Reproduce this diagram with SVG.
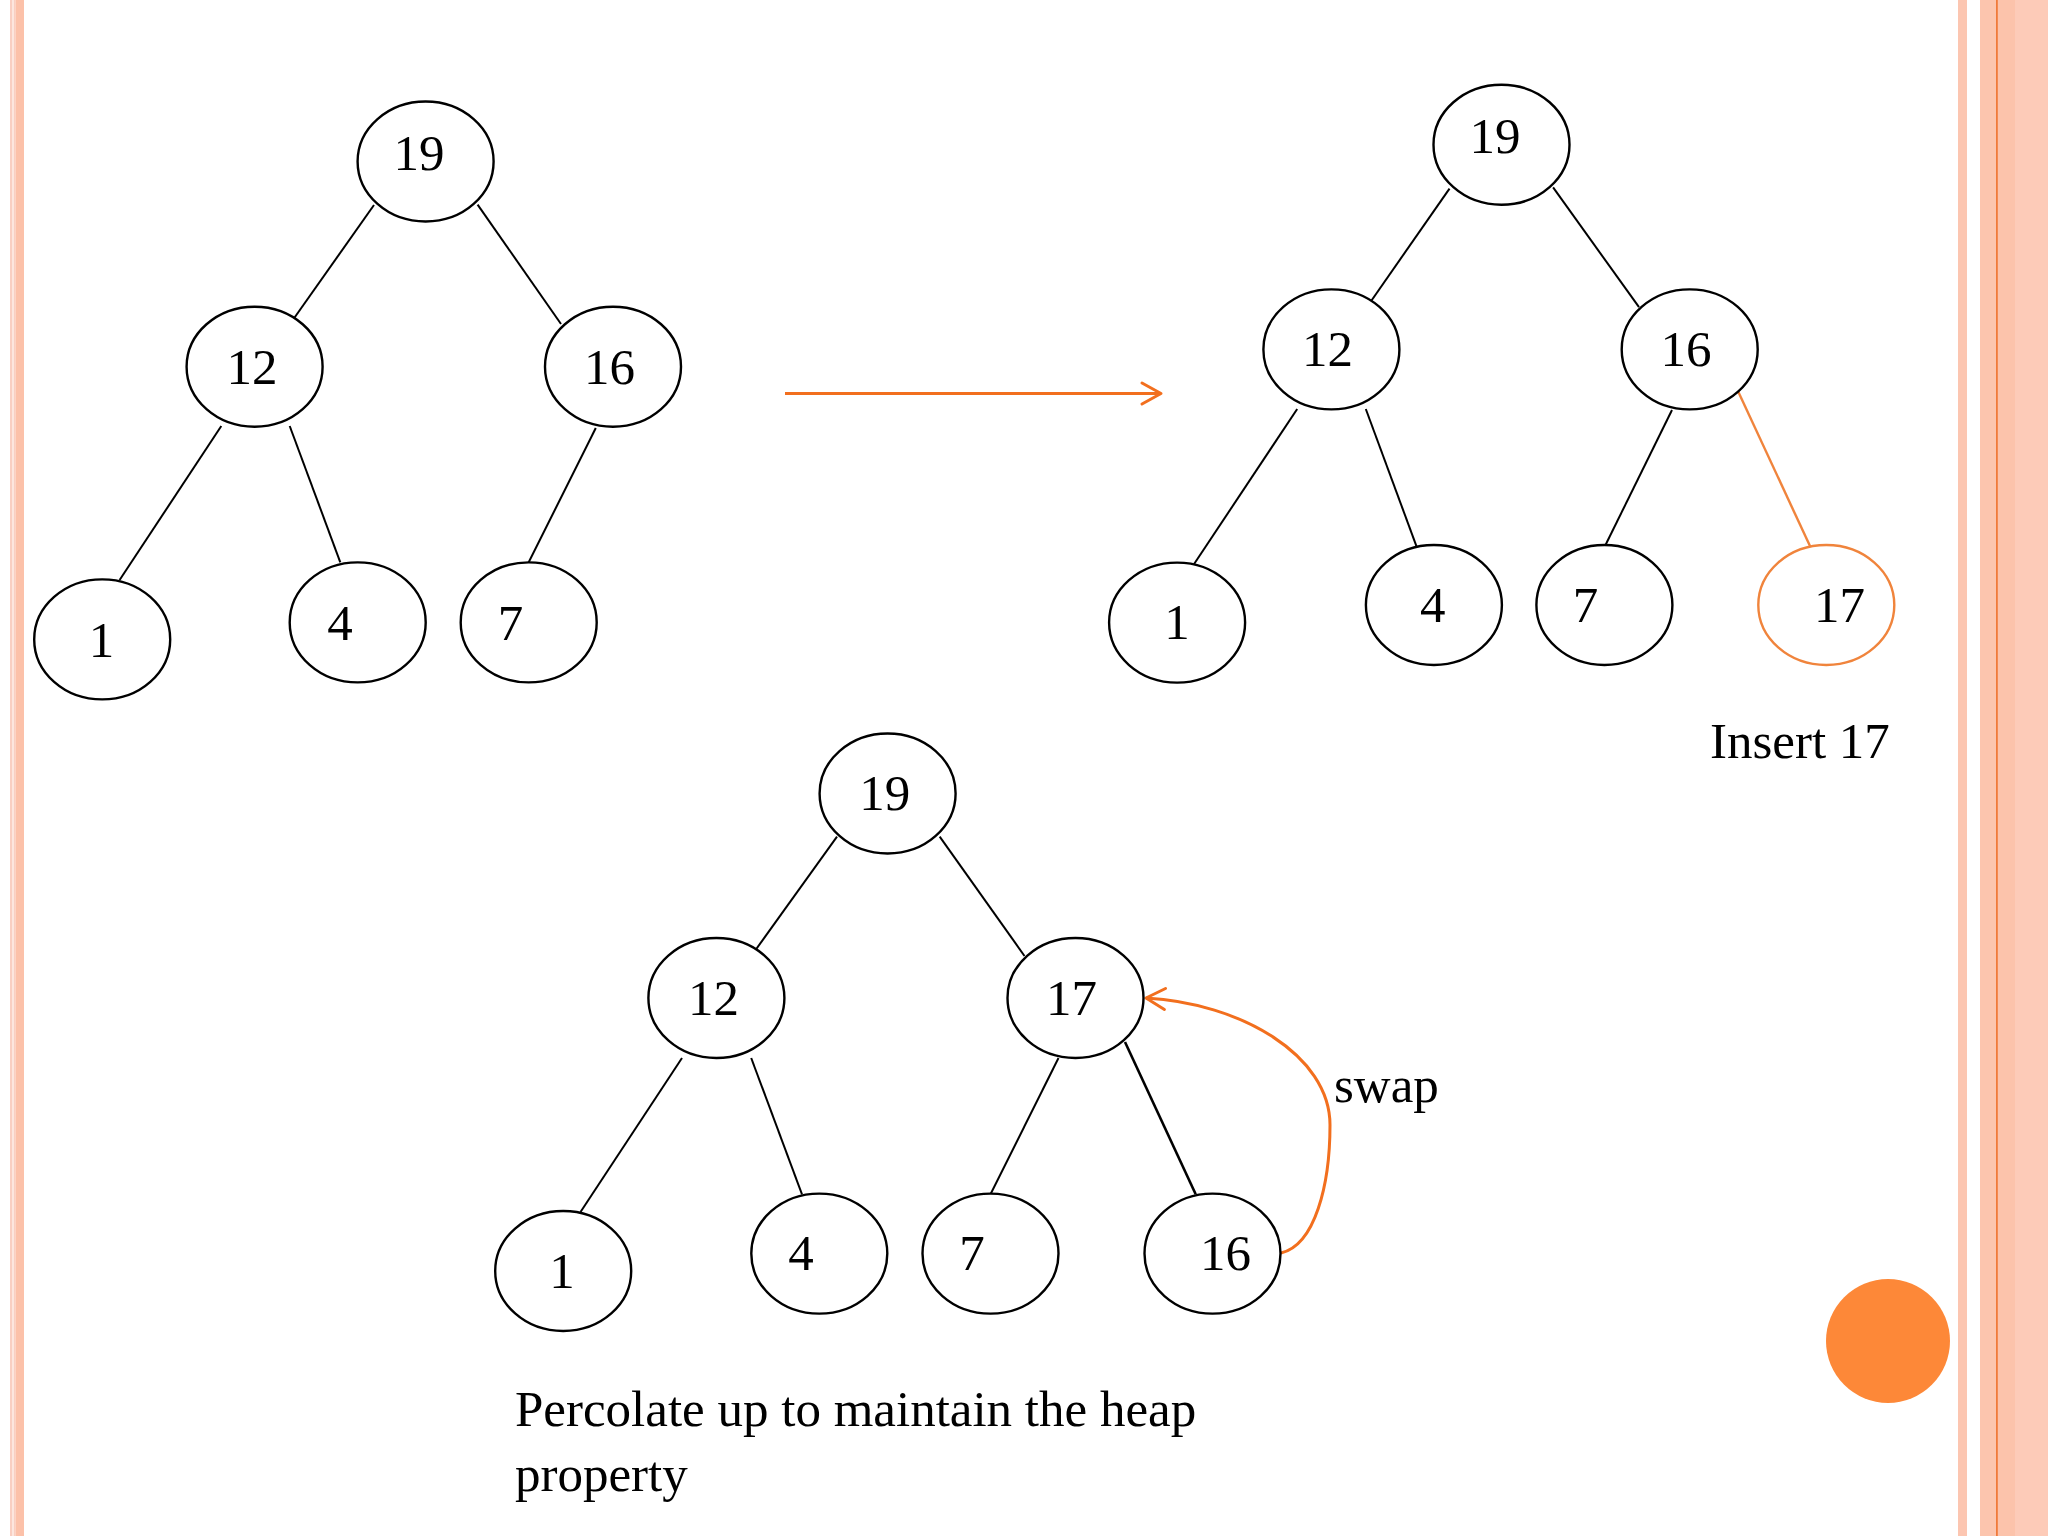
<svg xmlns="http://www.w3.org/2000/svg" width="2048" height="1536" viewBox="0 0 2048 1536">
<style>
.n ellipse{fill:#ffffff;stroke:#000000;stroke-width:2.4}
.n.hl ellipse{stroke:#f0843c}
.t{font-family:"Liberation Serif","Times New Roman",serif;font-size:51px;fill:#000000}
.n text{text-anchor:middle}
.e line{stroke:#000000;stroke-width:2}
.e line.hl{stroke:#f0843c;stroke-width:2.4}
.arr{fill:none;stroke:#f26f1e;stroke-width:3}
</style>
<defs>
<marker id="chev" markerUnits="userSpaceOnUse" markerWidth="40" markerHeight="40" viewBox="-30 -20 40 40" refX="0" refY="0" orient="auto">
<path d="M-19,-10.5 L0,0 L-19,10.5" fill="none" stroke="#f26f1e" stroke-width="3" stroke-linecap="round" stroke-linejoin="round"/>
</marker>
</defs>
<rect width="2048" height="1536" fill="#ffffff"/>
<g id="frame">
<rect x="10" y="0" width="5.5" height="1536" fill="#f9cfc2"/>
<rect x="12" y="0" width="2" height="1536" fill="#fde6de"/>
<rect x="15.5" y="0" width="8.5" height="1536" fill="#fcc1a9"/>
<rect x="1958" y="0" width="9" height="1536" fill="#fcc6b1"/>
<rect x="1980" y="0" width="68" height="1536" fill="#fdcbb8"/>
<rect x="1980" y="0" width="16" height="1536" fill="#fcc5ae"/>
<rect x="1997.5" y="0" width="17.5" height="1536" fill="#fcc3ab"/>
<rect x="1996" y="0" width="1.8" height="1536" fill="#f07a3a"/>
<circle cx="1888" cy="1341" r="62" fill="#fd8838"/>
</g>
<g id="connectors" class="e">
<line x1="374" y1="205" x2="290" y2="324"/>
<line x1="477.6" y1="204.6" x2="561" y2="324"/>
<line x1="221.3" y1="426" x2="119.6" y2="580"/>
<line x1="289.7" y1="426" x2="340.3" y2="562.3"/>
<line x1="595.8" y1="428" x2="528.7" y2="562.3"/>
<line x1="1449.5" y1="188.6" x2="1366.8" y2="307.2"/>
<line x1="1553.1" y1="187.4" x2="1639" y2="307.2"/>
<line x1="1297.2" y1="409" x2="1194.1" y2="564"/>
<line x1="1365.8" y1="409" x2="1416.5" y2="546.3"/>
<line x1="1672" y1="410" x2="1604.9" y2="546.3"/>
<line class="hl" x1="1738.4" y1="392" x2="1810.1" y2="546.3"/>
<line x1="837" y1="836.6" x2="751.2" y2="956"/>
<line x1="939.7" y1="836.6" x2="1024.5" y2="956"/>
<line x1="682" y1="1058" x2="580.5" y2="1212"/>
<line x1="751.2" y1="1058" x2="802" y2="1194.3"/>
<line x1="1058.5" y1="1058" x2="990.5" y2="1194.3"/>
<line x1="1125" y1="1042" x2="1195.7" y2="1194.3" style="stroke-width:2.6"/>
<path class="arr" d="M785,393.5 L1161,393.5" marker-end="url(#chev)"/>
<path class="arr" d="M1281,1253 C1315,1245 1330,1185 1330,1125 C1330,1055 1240,1003 1146,998" marker-end="url(#chev)"/>
</g>
<g id="tree1">
<g id="t1-19" class="n"><ellipse cx="425.6" cy="161.5" rx="68" ry="60"/><text class="t" x="419" y="170">19</text></g>
<g id="t1-12" class="n"><ellipse cx="254.6" cy="366.7" rx="68" ry="60"/><text class="t" x="252" y="384">12</text></g>
<g id="t1-16" class="n"><ellipse cx="613" cy="366.7" rx="68" ry="60"/><text class="t" x="609.6" y="384">16</text></g>
<g id="t1-1" class="n"><ellipse cx="102.2" cy="639.4" rx="68" ry="60"/><text class="t" x="101.4" y="657">1</text></g>
<g id="t1-4" class="n"><ellipse cx="357.7" cy="622.4" rx="68" ry="60"/><text class="t" x="340" y="640">4</text></g>
<g id="t1-7" class="n"><ellipse cx="528.7" cy="622.4" rx="68" ry="60"/><text class="t" x="510.5" y="640">7</text></g>
</g>
<g id="tree2">
<g id="t2-19" class="n"><ellipse cx="1501.5" cy="144.7" rx="68" ry="60"/><text class="t" x="1495.1" y="153">19</text></g>
<g id="t2-12" class="n"><ellipse cx="1331.4" cy="349.4" rx="68" ry="60"/><text class="t" x="1327.5" y="366.4">12</text></g>
<g id="t2-16" class="n"><ellipse cx="1689.7" cy="349.4" rx="68" ry="60"/><text class="t" x="1686.1" y="366.4">16</text></g>
<g id="t2-1" class="n"><ellipse cx="1177.1" cy="622.6" rx="68" ry="60"/><text class="t" x="1176.9" y="639">1</text></g>
<g id="t2-4" class="n"><ellipse cx="1433.9" cy="605" rx="68" ry="60"/><text class="t" x="1432.7" y="622">4</text></g>
<g id="t2-7" class="n"><ellipse cx="1604.4" cy="605" rx="68" ry="60"/><text class="t" x="1585.6" y="622">7</text></g>
<g id="t2-17" class="n hl"><ellipse cx="1826.3" cy="605" rx="68" ry="60"/><text class="t" x="1839.4" y="622">17</text></g>
</g>
<g id="tree3">
<g id="t3-19" class="n"><ellipse cx="887.6" cy="793.5" rx="68" ry="60"/><text class="t" x="884.7" y="810">19</text></g>
<g id="t3-12" class="n"><ellipse cx="716.4" cy="998" rx="68" ry="60"/><text class="t" x="713.5" y="1014.5">12</text></g>
<g id="t3-17" class="n"><ellipse cx="1075.5" cy="998" rx="68" ry="60"/><text class="t" x="1071.6" y="1014.5">17</text></g>
<g id="t3-1" class="n"><ellipse cx="563.2" cy="1271" rx="68" ry="60"/><text class="t" x="562" y="1287.6">1</text></g>
<g id="t3-4" class="n"><ellipse cx="819.3" cy="1253.6" rx="68" ry="60"/><text class="t" x="801" y="1270">4</text></g>
<g id="t3-7" class="n"><ellipse cx="990.5" cy="1253.6" rx="68" ry="60"/><text class="t" x="972" y="1270">7</text></g>
<g id="t3-16" class="n"><ellipse cx="1212.5" cy="1253.6" rx="68" ry="60"/><text class="t" x="1225.5" y="1270">16</text></g>
</g>
<g id="labels">
<text class="t" x="1710" y="758">Insert 17</text>
<text class="t" x="1334" y="1102">swap</text>
<text class="t" x="515" y="1426">Percolate up to maintain the heap</text>
<text class="t" x="515" y="1491">property</text>
</g>
</svg>
